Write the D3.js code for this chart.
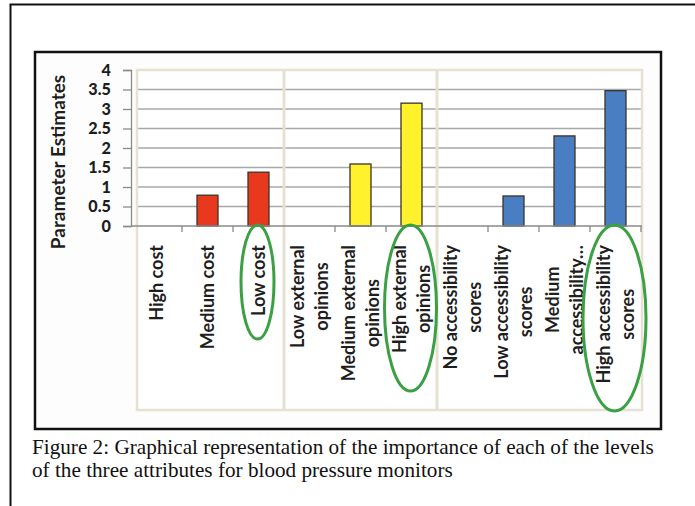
<!DOCTYPE html>
<html>
<head>
<meta charset="utf-8">
<script src="https://cdn.jsdelivr.net/npm/d3@7"></script>
<style>
  html, body { margin: 0; padding: 0; background: #fff; }
  svg { display: block; }
</style>
</head>
<body>
<svg id="chart" width="695" height="506"></svg>
<script>
// Attribute levels (wrapped label lines) and their parameter estimates
const categories = [
  ["High cost"],
  ["Medium cost"],
  ["Low cost"],
  ["Low external", "opinions"],
  ["Medium external", "opinions"],
  ["High external", "opinions"],
  ["No accessibility", "scores"],
  ["Low accessibility", "scores"],
  ["Medium", "accessibility\u2026"],
  ["High accessibility", "scores"]
];
const estimates = [0, 0.79, 1.38, 0, 1.59, 3.15, 0, 0.77, 2.31, 3.47];
const attributeOf = [0, 0, 0, 1, 1, 1, 2, 2, 2, 2];
const attributeColors = ["#e8391e", "#fff22c", "#4a7ec2"];
const yTicks = [0, 0.5, 1, 1.5, 2, 2.5, 3, 3.5, 4];
const highlighted = [2, 5, 9];
const captionLines = [
  "Figure 2: Graphical representation of the importance of each of the levels",
  "of the three attributes for blood pressure monitors"
];

const svg = d3.select("#chart");
const labelFont = "Lato, 'Open Sans', sans-serif";

// outer frame (top and left edges)
svg.append("path")
  .attr("d", "M695,4.5 H10.5 V506")
  .attr("fill", "none").attr("stroke", "#111").attr("stroke-width", 2);

// chart box
svg.append("rect")
  .attr("x", 35).attr("y", 52).attr("width", 626).attr("height", 377)
  .attr("fill", "#fdfdfd").attr("stroke", "#111").attr("stroke-width", 2.5);

const keys = d3.range(categories.length);
const x = d3.scaleBand().domain(keys).range([131, 641]).paddingInner(0).paddingOuter(0);
const y = d3.scaleLinear().domain([0, 4]).range([226, 70]);

const areaLeft = 137, areaRight = 642, areaBottom = 410;

// plot + category area background
svg.append("rect")
  .attr("x", areaLeft).attr("y", y(4)).attr("width", areaRight - areaLeft).attr("height", areaBottom - y(4))
  .attr("fill", "#fff");

// horizontal gridlines
svg.append("g").selectAll("line")
  .data(yTicks.filter(t => t > 0 && t < 4))
  .join("line")
  .attr("x1", areaLeft).attr("x2", areaRight)
  .attr("y1", d => y(d)).attr("y2", d => y(d))
  .attr("stroke", "#a8a8a8").attr("stroke-width", 1.6);

// beige frame around the plotting and label area
svg.append("rect")
  .attr("x", areaLeft).attr("y", y(4)).attr("width", areaRight - areaLeft).attr("height", areaBottom - y(4))
  .attr("fill", "none").attr("stroke", "#e6e1d2").attr("stroke-width", 2.5);

// separators between the three attributes
const groupStarts = keys.filter(i => i > 0 && attributeOf[i] !== attributeOf[i - 1]);
svg.append("g").selectAll("line")
  .data(groupStarts)
  .join("line")
  .attr("x1", d => x(d)).attr("x2", d => x(d))
  .attr("y1", y(4)).attr("y2", areaBottom)
  .attr("stroke", "#e6e1d2").attr("stroke-width", 3);

// bars
const barW = 21;
svg.append("g").selectAll("rect")
  .data(keys.filter(i => estimates[i] > 0))
  .join("rect")
  .attr("x", i => x(i) + x.bandwidth() / 2 - barW / 2)
  .attr("y", i => y(estimates[i]))
  .attr("width", barW)
  .attr("height", i => y(0) - y(estimates[i]))
  .attr("fill", i => attributeColors[attributeOf[i]])
  .attr("stroke", "#3b3328").attr("stroke-width", 1.3);

// y axis
const yAxis = svg.append("g").attr("transform", "translate(131,0)")
  .call(d3.axisLeft(y).tickValues(yTicks).tickSize(8).tickPadding(12).tickFormat(d3.format("")));
yAxis.select(".domain").attr("stroke", "#8a8a8a").attr("stroke-width", 1.3);
yAxis.selectAll(".tick line").attr("stroke", "#8a8a8a").attr("stroke-width", 1.3);
yAxis.selectAll(".tick text")
  .attr("fill", "#1e1e1e").attr("font-family", labelFont).attr("font-weight", 900).attr("font-size", 16.2);

// x axis line and boundary ticks
svg.append("line")
  .attr("x1", 131).attr("x2", areaRight).attr("y1", y(0)).attr("y2", y(0))
  .attr("stroke", "#8a8a8a").attr("stroke-width", 1.3);
svg.append("g").selectAll("line")
  .data(d3.range(1, categories.length + 1).filter(i => !groupStarts.includes(i)))
  .join("line")
  .attr("x1", i => i < categories.length ? x(i) : x(i - 1) + x.bandwidth())
  .attr("x2", i => i < categories.length ? x(i) : x(i - 1) + x.bandwidth())
  .attr("y1", y(0)).attr("y2", y(0) + 6)
  .attr("stroke", "#8a8a8a").attr("stroke-width", 1.3);

// rotated category labels, top aligned, wrapped lines centered on each other
const labelTop = 245, lineGap = 24, labelSize = 18;
keys.forEach(i => {
  const lines = categories[i];
  const cx = x(i) + x.bandwidth() / 2;
  const g = svg.append("g").attr("transform", `translate(${cx},${labelTop}) rotate(-90)`);
  const texts = lines.map((ln, j) => g.append("text")
    .text(ln)
    .attr("y", (j - (lines.length - 1) / 2) * lineGap)
    .attr("dy", "0.35em")
    .attr("text-anchor", "middle")
    .attr("fill", "#1e1e1e")
    .attr("font-family", labelFont).attr("font-weight", 700).attr("font-size", labelSize));
  const maxLen = d3.max(texts, t => t.node().getComputedTextLength());
  texts.forEach(t => t.attr("x", -maxLen / 2));
});

// y axis title
svg.append("text")
  .attr("transform", "translate(58,162) rotate(-90)")
  .attr("text-anchor", "middle").attr("dy", "0.35em")
  .attr("fill", "#1e1e1e").attr("font-family", labelFont).attr("font-weight", 700).attr("font-size", 19)
  .text("Parameter Estimates");

// green ellipses marking the strongest level of each attribute
const ellipseSizes = { 2: [16.5, 57], 5: [26, 83], 9: [31.5, 93] };
svg.append("g").selectAll("ellipse")
  .data(highlighted)
  .join("ellipse")
  .attr("cx", i => x(i) + x.bandwidth() / 2 - 1)
  .attr("cy", i => y(0) + ellipseSizes[i][1] - 1)
  .attr("rx", i => ellipseSizes[i][0])
  .attr("ry", i => ellipseSizes[i][1])
  .attr("fill", "none").attr("stroke", "#3aa043").attr("stroke-width", 3);

// caption
svg.append("g").selectAll("text")
  .data(captionLines)
  .join("text")
  .attr("x", 32).attr("y", (d, j) => 454 + j * 23)
  .attr("fill", "#111")
  .attr("font-family", "'Liberation Serif', 'Times New Roman', serif").attr("font-size", 21.2)
  .text(d => d);
</script>
</body>
</html>
